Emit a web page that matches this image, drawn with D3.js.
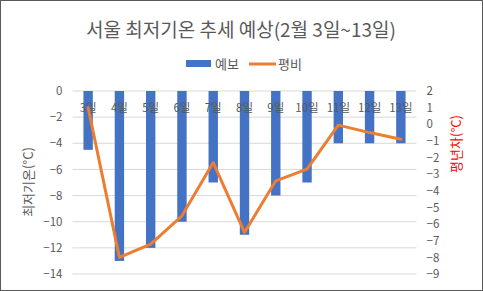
<!DOCTYPE html>
<html>
<head>
<meta charset="utf-8">
<script src="https://cdn.jsdelivr.net/npm/d3@7"></script>
<style>
  body { margin: 0; background: #fff; }
  svg { display: block; font-family: "Noto Sans CJK KR", "Noto Sans", sans-serif; }
</style>
</head>
<body>
<svg id="chart" width="483" height="291"></svg>
<script>
const days = ["3일", "4일", "5일", "6일", "7일", "8일", "9일", "10일", "11일", "12일", "13일"];
const forecast = [-4.5, -13, -12, -10, -7, -11, -8, -7, -4, -4, -4];
const anomaly = [1, -8, -7.2, -5.5, -2.3, -6.5, -3.4, -2.7, -0.05, -0.5, -0.9];
const leftTicks = [0, -2, -4, -6, -8, -10, -12, -14];
const rightTicks = [2, 1, 0, -1, -2, -3, -4, -5, -6, -7, -8, -9];

const svg = d3.select("#chart");
const W = 483, H = 291;
const plot = { left: 72.5, right: 416.5, top: 91, bottom: 274 };

// outer border
svg.append("rect").attr("x", 0.5).attr("y", 0.5).attr("width", W - 1).attr("height", H - 1)
    .attr("fill", "#fff").attr("stroke", "#595959");

const x = d3.scaleBand().domain(days).range([plot.left, plot.right]).paddingInner(0.7).paddingOuter(0.35);
const xc = d3.scalePoint().domain(days).range([plot.left, plot.right]).padding(0.5);
const yL = d3.scaleLinear().domain([-14, 0]).range([plot.bottom, plot.top]);
const yR = d3.scaleLinear().domain([-9, 2]).range([plot.bottom, plot.top]);

// gridlines
svg.append("g").selectAll("line").data(leftTicks).join("line")
    .attr("x1", plot.left).attr("x2", plot.right)
    .attr("y1", d => yL(d)).attr("y2", d => yL(d))
    .attr("stroke", "#d9d9d9").attr("stroke-width", 1);

// bars
svg.append("g").selectAll("rect").data(forecast).join("rect")
    .attr("x", (d, i) => x(days[i]))
    .attr("width", x.bandwidth())
    .attr("y", yL(0))
    .attr("height", d => yL(d) - yL(0))
    .attr("fill", "#4472c4");

// category labels (at top)
svg.append("g").selectAll("text").data(days).join("text")
    .attr("x", d => xc(d)).attr("y", 112)
    .attr("text-anchor", "middle").attr("font-size", 11.5).attr("fill", "#595959")
    .text(d => d);

// line
const line = d3.line().x((d, i) => xc(days[i])).y(d => yR(d));
svg.append("path").datum(anomaly).attr("d", line)
    .attr("fill", "none").attr("stroke", "#ed7d31").attr("stroke-width", 3)
    .attr("stroke-linejoin", "round").attr("stroke-linecap", "round");

// left axis
const axL = svg.append("g").attr("transform", `translate(${plot.left - 10},0)`)
    .call(d3.axisLeft(yL).tickValues(leftTicks).tickSize(0).tickPadding(0));
axL.select(".domain").remove();
axL.selectAll("text").attr("font-size", 11.5).attr("fill", "#595959").attr("font-family", "Noto Sans CJK KR, sans-serif");

// right axis
const axR = svg.append("g").attr("transform", `translate(${plot.right + 10},0)`)
    .call(d3.axisRight(yR).tickValues(rightTicks).tickSize(0).tickPadding(0));
axR.select(".domain").remove();
axR.selectAll("text").attr("font-size", 11.5).attr("fill", "#595959").attr("font-family", "Noto Sans CJK KR, sans-serif");

// axis titles
svg.append("text").attr("transform", "translate(33,182) rotate(-90)")
    .attr("text-anchor", "middle").attr("font-size", 13).attr("fill", "#595959")
    .text("최저기온(°C)");
svg.append("text").attr("transform", "translate(461,144) rotate(-90)")
    .attr("text-anchor", "middle").attr("font-size", 13).attr("fill", "#ff0000")
    .text("평년차(°C)");

// title
svg.append("text").attr("x", 241).attr("y", 37).attr("text-anchor", "middle")
    .attr("font-size", 19).attr("fill", "#595959")
    .text("서울 최저기온 추세 예상(2월 3일~13일)");

// legend
const lg = svg.append("g");
lg.append("rect").attr("x", 186).attr("y", 60).attr("width", 25).attr("height", 7).attr("fill", "#4472c4");
lg.append("text").attr("x", 215).attr("y", 68.5).attr("font-size", 13).attr("fill", "#595959").text("예보");
lg.append("line").attr("x1", 249).attr("x2", 276).attr("y1", 64).attr("y2", 64)
    .attr("stroke", "#ed7d31").attr("stroke-width", 3);
lg.append("text").attr("x", 278).attr("y", 68.5).attr("font-size", 13).attr("fill", "#595959").text("평비");
</script>
</body>
</html>
